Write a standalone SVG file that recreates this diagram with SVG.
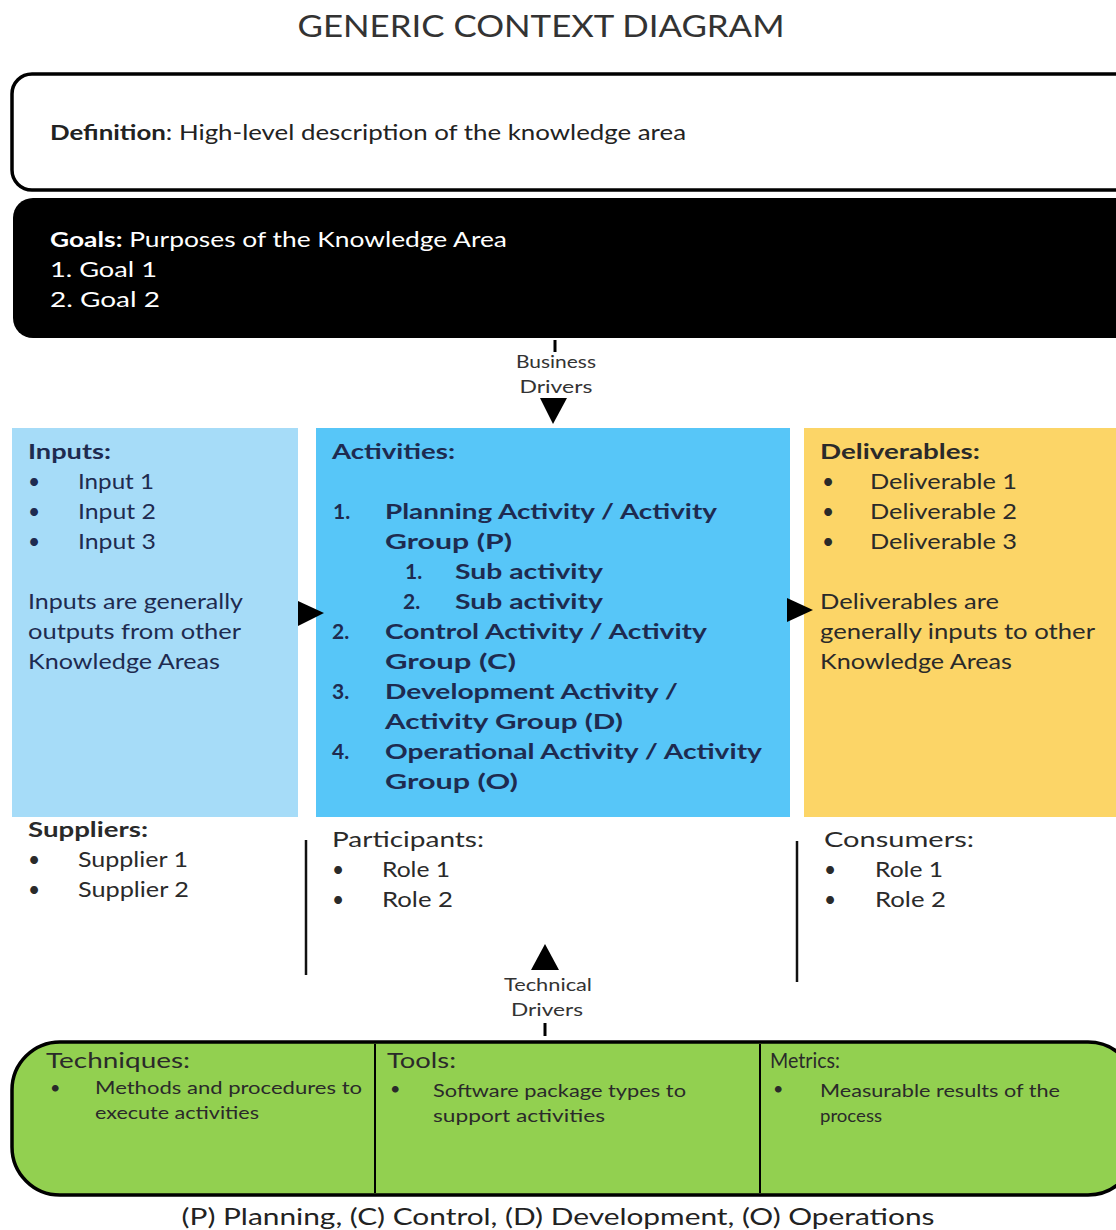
<svg xmlns="http://www.w3.org/2000/svg" width="1116" height="1230" viewBox="0 0 1116 1230">
<style>
text{font-family:Lato,"Open Sans","Liberation Sans",sans-serif;}
.t{font-size:21px;}
.b{font-weight:bold;}
.navy{fill:#1e2b50;}
.dark{fill:#2a2a2a;}
.s{font-size:18px;}
.w{fill:#ffffff;}
.line{stroke:#111;stroke-width:2.5;fill:none;}
</style>
<rect width="1116" height="1230" fill="#fff"/>
<text x="541" y="37" text-anchor="middle" font-size="30" fill="#333" textLength="487" lengthAdjust="spacingAndGlyphs">GENERIC CONTEXT DIAGRAM</text>

<g id="definition">
<rect x="12" y="74" width="1124" height="116" rx="20" fill="#fff" stroke="#000" stroke-width="3.5"/>
<text x="50" y="140" class="t" fill="#222" textLength="636" lengthAdjust="spacingAndGlyphs"><tspan class="b">Definition</tspan>: High-level description of the knowledge area</text>
</g>

<g id="goals">
<rect x="13" y="198" width="1123" height="140" rx="20" fill="#000"/>
<text x="50" y="247" class="t w" textLength="457" lengthAdjust="spacingAndGlyphs"><tspan class="b">Goals:</tspan> Purposes of the Knowledge Area</text>
<text x="50" y="277" class="t w" textLength="107" lengthAdjust="spacingAndGlyphs">1.  Goal 1</text>
<text x="50" y="307" class="t w" textLength="110" lengthAdjust="spacingAndGlyphs">2.  Goal 2</text>
</g>

<g id="inputs">
<rect x="12" y="428" width="286" height="389" fill="#a6dcf8"/>
<text x="28" y="459" class="t b navy" textLength="83" lengthAdjust="spacingAndGlyphs">Inputs:</text>
<text x="28" y="489" class="t navy">•</text><text x="78" y="489" class="t navy" textLength="76" lengthAdjust="spacingAndGlyphs">Input 1</text>
<text x="28" y="519" class="t navy">•</text><text x="78" y="519" class="t navy" textLength="78" lengthAdjust="spacingAndGlyphs">Input 2</text>
<text x="28" y="549" class="t navy">•</text><text x="78" y="549" class="t navy" textLength="78" lengthAdjust="spacingAndGlyphs">Input 3</text>
<text x="28" y="609" class="t navy" textLength="215" lengthAdjust="spacingAndGlyphs">Inputs are generally</text>
<text x="28" y="639" class="t navy" textLength="213" lengthAdjust="spacingAndGlyphs">outputs from other</text>
<text x="28" y="669" class="t navy" textLength="192" lengthAdjust="spacingAndGlyphs">Knowledge Areas</text>
</g>

<g id="activities">
<rect x="316" y="428" width="474" height="389" fill="#57c6f8"/>
<text x="332" y="459" class="t b navy" textLength="123" lengthAdjust="spacingAndGlyphs">Activities:</text>
<text x="333" y="519" class="t b navy">1.</text><text x="385" y="519" class="t b navy" textLength="332" lengthAdjust="spacingAndGlyphs">Planning Activity / Activity</text>
<text x="385" y="549" class="t b navy" textLength="127" lengthAdjust="spacingAndGlyphs">Group (P)</text>
<text x="405" y="579" class="t b navy">1.</text><text x="455" y="579" class="t b navy" textLength="148" lengthAdjust="spacingAndGlyphs">Sub activity</text>
<text x="403" y="609" class="t b navy">2.</text><text x="455" y="609" class="t b navy" textLength="148" lengthAdjust="spacingAndGlyphs">Sub activity</text>
<text x="332" y="639" class="t b navy">2.</text><text x="385" y="639" class="t b navy" textLength="322" lengthAdjust="spacingAndGlyphs">Control Activity / Activity</text>
<text x="385" y="669" class="t b navy" textLength="131" lengthAdjust="spacingAndGlyphs">Group (C)</text>
<text x="332" y="699" class="t b navy">3.</text><text x="385" y="699" class="t b navy" textLength="293" lengthAdjust="spacingAndGlyphs">Development Activity /</text>
<text x="385" y="729" class="t b navy" textLength="238" lengthAdjust="spacingAndGlyphs">Activity Group (D)</text>
<text x="332" y="759" class="t b navy">4.</text><text x="385" y="759" class="t b navy" textLength="377" lengthAdjust="spacingAndGlyphs">Operational Activity / Activity</text>
<text x="385" y="789" class="t b navy" textLength="133" lengthAdjust="spacingAndGlyphs">Group (O)</text>
</g>

<g id="deliverables">
<rect x="804" y="428" width="312" height="389" fill="#fcd567"/>
<text x="820" y="459" class="t b dark" textLength="160" lengthAdjust="spacingAndGlyphs">Deliverables:</text>
<text x="822" y="489" class="t dark">•</text><text x="870" y="489" class="t dark" textLength="147" lengthAdjust="spacingAndGlyphs">Deliverable 1</text>
<text x="822" y="519" class="t dark">•</text><text x="870" y="519" class="t dark" textLength="147" lengthAdjust="spacingAndGlyphs">Deliverable 2</text>
<text x="822" y="549" class="t dark">•</text><text x="870" y="549" class="t dark" textLength="147" lengthAdjust="spacingAndGlyphs">Deliverable 3</text>
<text x="820" y="609" class="t dark" textLength="179" lengthAdjust="spacingAndGlyphs">Deliverables are</text>
<text x="820" y="639" class="t dark" textLength="275" lengthAdjust="spacingAndGlyphs">generally inputs to other</text>
<text x="820" y="669" class="t dark" textLength="192" lengthAdjust="spacingAndGlyphs">Knowledge Areas</text>
</g>

<g id="suppliers">
<text x="28" y="837" class="t b dark" textLength="120" lengthAdjust="spacingAndGlyphs">Suppliers:</text>
<text x="28" y="867" class="t dark">•</text><text x="78" y="867" class="t dark" textLength="110" lengthAdjust="spacingAndGlyphs">Supplier 1</text>
<text x="28" y="897" class="t dark">•</text><text x="78" y="897" class="t dark" textLength="111" lengthAdjust="spacingAndGlyphs">Supplier 2</text>
</g>

<g id="participants">
<text x="332" y="847" class="t dark" textLength="152" lengthAdjust="spacingAndGlyphs">Participants:</text>
<text x="332" y="877" class="t dark">•</text><text x="382" y="877" class="t dark" textLength="68" lengthAdjust="spacingAndGlyphs">Role 1</text>
<text x="332" y="907" class="t dark">•</text><text x="382" y="907" class="t dark" textLength="71" lengthAdjust="spacingAndGlyphs">Role 2</text>
</g>

<g id="consumers">
<text x="824" y="847" class="t dark" textLength="150" lengthAdjust="spacingAndGlyphs">Consumers:</text>
<text x="824" y="877" class="t dark">•</text><text x="875" y="877" class="t dark" textLength="68" lengthAdjust="spacingAndGlyphs">Role 1</text>
<text x="824" y="907" class="t dark">•</text><text x="875" y="907" class="t dark" textLength="71" lengthAdjust="spacingAndGlyphs">Role 2</text>
</g>

<g id="support">
<rect x="12" y="1042" width="1124" height="153" rx="48" fill="#92d050" stroke="#000" stroke-width="3.5"/>
<line x1="375" y1="1044" x2="375" y2="1193" stroke="#000" stroke-width="2"/>
<line x1="760" y1="1044" x2="760" y2="1193" stroke="#000" stroke-width="2"/>
<text x="46" y="1068" class="t dark" textLength="144" lengthAdjust="spacingAndGlyphs">Techniques:</text>
<text x="50" y="1094" class="s dark">•</text>
<text x="95" y="1094" class="s dark" textLength="267" lengthAdjust="spacingAndGlyphs">Methods and procedures to</text>
<text x="95" y="1119" class="s dark" textLength="164" lengthAdjust="spacingAndGlyphs">execute activities</text>
<text x="387" y="1068" class="t dark" textLength="69" lengthAdjust="spacingAndGlyphs">Tools:</text>
<text x="390" y="1095" class="s dark">•</text>
<text x="433" y="1097" class="s dark" textLength="253" lengthAdjust="spacingAndGlyphs">Software package types to</text>
<text x="433" y="1122" class="s dark" textLength="172" lengthAdjust="spacingAndGlyphs">support  activities</text>
<text x="770" y="1068" class="t dark" textLength="70" lengthAdjust="spacingAndGlyphs">Metrics:</text>
<text x="773" y="1095" class="s dark">•</text>
<text x="820" y="1097" class="s dark" textLength="240" lengthAdjust="spacingAndGlyphs">Measurable results of the</text>
<text x="820" y="1122" class="s dark" textLength="62" lengthAdjust="spacingAndGlyphs">process</text>
</g>

<g id="connectors">
<line x1="555" y1="340" x2="555" y2="352" stroke="#000" stroke-width="3"/>
<text x="556" y="368" class="s" fill="#333" text-anchor="middle" textLength="80" lengthAdjust="spacingAndGlyphs">Business</text>
<text x="556" y="393" class="s" fill="#333" text-anchor="middle" textLength="73" lengthAdjust="spacingAndGlyphs">Drivers</text>
<path d="M540,398 L567,398 L553,424 Z" fill="#000"/>
<path d="M298,601 L324,613 L298,626 Z" fill="#000"/>
<path d="M787,598 L813,610 L787,622 Z" fill="#000"/>
<line class="line" x1="306" y1="840" x2="306" y2="975"/>
<line class="line" x1="797" y1="841" x2="797" y2="982"/>
<path d="M545,944 L559,970 L531,970 Z" fill="#000"/>
<text x="548" y="991" class="s" fill="#333" text-anchor="middle" textLength="88" lengthAdjust="spacingAndGlyphs">Technical</text>
<text x="547" y="1016" class="s" fill="#333" text-anchor="middle" textLength="72" lengthAdjust="spacingAndGlyphs">Drivers</text>
<line x1="545" y1="1023" x2="545" y2="1036" stroke="#000" stroke-width="3"/>
</g>

<text x="558" y="1225" font-size="24" fill="#222" text-anchor="middle" textLength="753" lengthAdjust="spacingAndGlyphs">(P) Planning, (C) Control, (D) Development, (O) Operations</text>
</svg>
